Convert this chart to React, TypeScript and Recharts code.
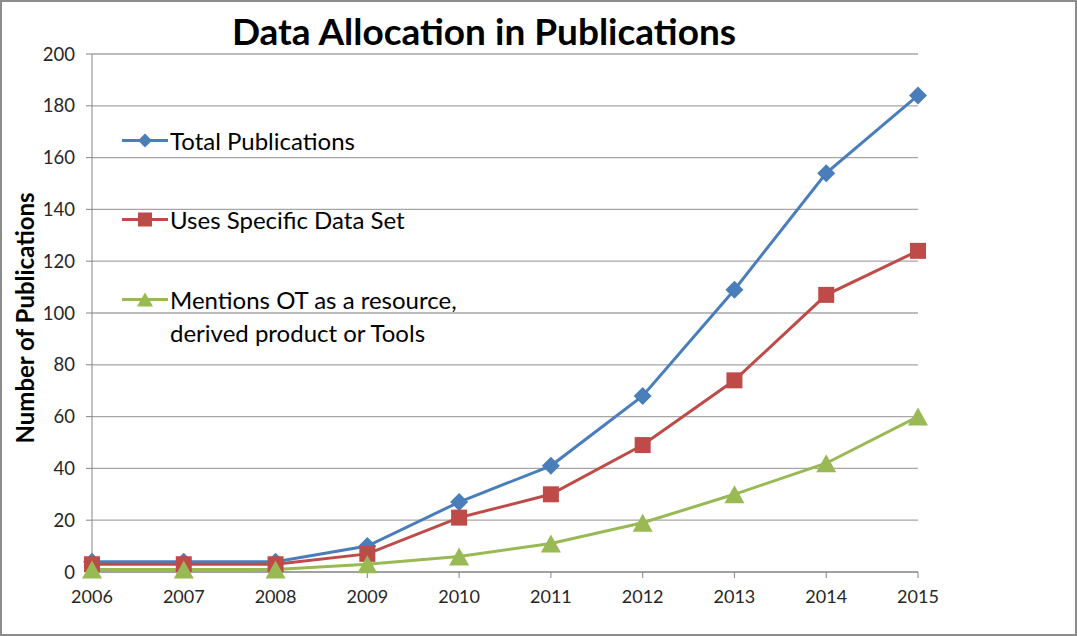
import React from 'react';
import { LineChart, Line, XAxis, YAxis, CartesianGrid } from 'recharts';

const years = ['2006', '2007', '2008', '2009', '2010', '2011', '2012', '2013', '2014', '2015'];
const totalPublications = [4, 4, 4, 10, 27, 41, 68, 109, 154, 184];
const usesSpecificDataSet = [3, 3, 3, 7, 21, 30, 49, 74, 107, 124];
const mentionsOT = [1, 1, 1, 3, 6, 11, 19, 30, 42, 60];
const yTicks = [0, 20, 40, 60, 80, 100, 120, 140, 160, 180, 200];

const seriesNames = [
  'Total Publications',
  'Uses Specific Data Set',
  'Mentions OT as a resource, derived product or Tools',
];
const legendLines = [
  ['Total Publications'],
  ['Uses Specific Data Set'],
  ['Mentions OT as a resource,', 'derived product or Tools'],
];

const BLUE = '#4A7EBB';
const RED = '#BE4B48';
const GREEN = '#98B954';

const data = years.map((y, i) => ({
  year: y,
  total: totalPublications[i],
  uses: usesSpecificDataSet[i],
  mentions: mentionsOT[i],
}));

const FONT = 'Lato, "Open Sans", sans-serif';

const Diamond = ({ cx, cy, r = 9, color }: any) =>
  cx == null || cy == null ? null : (
    <path d={`M${cx},${cy - r}L${cx + r},${cy}L${cx},${cy + r}L${cx - r},${cy}Z`} fill={color} />
  );
const Square = ({ cx, cy, s = 16, color }: any) =>
  cx == null || cy == null ? null : (
    <rect x={cx - s / 2} y={cy - s / 2} width={s} height={s} fill={color} />
  );
const Triangle = ({ cx, cy, w = 20, h = 18, color }: any) =>
  cx == null || cy == null ? null : (
    <path d={`M${cx},${cy - h / 2}L${cx + w / 2},${cy + h / 2}L${cx - w / 2},${cy + h / 2}Z`} fill={color} />
  );

const markerFor = (i: number, cx: number, cy: number) => {
  if (i === 0) return <Diamond cx={cx} cy={cy} r={7} color={BLUE} />;
  if (i === 1) return <Square cx={cx} cy={cy} s={14} color={RED} />;
  return <Triangle cx={cx} cy={cy} w={16} h={14} color={GREEN} />;
};
const colors = [BLUE, RED, GREEN];
const legendTops = [122, 201, 281];

const LegendBox = () => (
  <div style={{ fontFamily: FONT, fontSize: 24, color: '#000' }}>
    {legendLines.map((lines, i) => (
      <div
        key={i}
        style={{ position: 'absolute', left: 118, top: legendTops[i], display: 'flex', alignItems: 'flex-start' }}
      >
        <svg width={50} height={33} style={{ flex: 'none' }}>
          <line x1={2} y1={16.5} x2={48} y2={16.5} stroke={colors[i]} strokeWidth={3} />
          {markerFor(i, 25, 16.5)}
        </svg>
        <div style={{ lineHeight: '33px', whiteSpace: 'nowrap' }}>
          {lines.map((l, j) => (
            <div key={j}>{l}</div>
          ))}
        </div>
      </div>
    ))}
  </div>
);

const YLabel = ({ viewBox }: any) => {
  const x = viewBox.x - 8;
  const y = viewBox.y + viewBox.height / 2 + 5;
  return (
    <text
      x={x}
      y={y}
      transform={`rotate(-90, ${x}, ${y})`}
      textAnchor="middle"
      dominantBaseline="central"
      style={{ fontFamily: FONT, fontWeight: 700, fontSize: 24, fill: '#000' }}
    >
      Number of Publications
    </text>
  );
};

export default function App() {
  return (
    <div
      style={{
        position: 'absolute',
        left: 0,
        top: 0,
        width: 1077,
        height: 636,
        background: '#fff',
        boxSizing: 'border-box',
        border: '2px solid #8c8c8c',
        fontFamily: FONT,
      }}
    >
      <div style={{ position: 'absolute', left: -2, top: -2 }}>
        <LineChart
          width={1077}
          height={636}
          data={data}
          margin={{ top: 54, right: 159, bottom: 24, left: 32 }}
        >
          <CartesianGrid vertical={false} stroke="#a6a6a6" strokeWidth={1.3} />
          <XAxis
            dataKey="year"
            height={40}
            stroke="#868686"
            tickSize={6}
            tickMargin={12}
            tick={{ fill: '#262626', fontSize: 18, fontFamily: FONT }}
            interval={0}
          />
          <YAxis
            width={60}
            domain={[0, 200]}
            ticks={yTicks}
            interval={0}
            stroke="#868686"
            tickSize={6}
            tickMargin={11}
            tick={{ fill: '#262626', fontSize: 18.5, fontFamily: FONT }}
            label={<YLabel />}
          />
          <Line
            name={seriesNames[0]}
            dataKey="total"
            stroke={BLUE}
            strokeWidth={3}
            isAnimationActive={false}
            dot={(p: any) => <Diamond key={`d${p.index}`} cx={p.cx} cy={p.cy} color={BLUE} />}
          />
          <Line
            name={seriesNames[1]}
            dataKey="uses"
            stroke={RED}
            strokeWidth={3}
            isAnimationActive={false}
            dot={(p: any) => <Square key={`s${p.index}`} cx={p.cx} cy={p.cy} color={RED} />}
          />
          <Line
            name={seriesNames[2]}
            dataKey="mentions"
            stroke={GREEN}
            strokeWidth={3}
            isAnimationActive={false}
            dot={(p: any) => <Triangle key={`t${p.index}`} cx={p.cx} cy={p.cy} color={GREEN} />}
          />
        </LineChart>
      </div>
      <LegendBox />
      <div
        style={{
          position: 'absolute',
          left: -2,
          width: 968,
          top: 6,
          textAlign: 'center',
          fontFamily: FONT,
          fontWeight: 700,
          fontSize: 37,
          color: '#000',
          whiteSpace: 'nowrap',
        }}
      >
        Data Allocation in Publications
      </div>
    </div>
  );
}
